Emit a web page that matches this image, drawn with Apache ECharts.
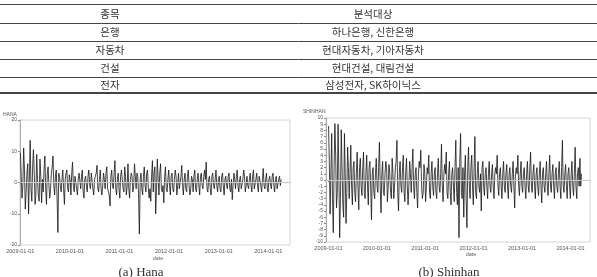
<!DOCTYPE html>
<html><head><meta charset="utf-8">
<script src="https://cdn.jsdelivr.net/npm/echarts@6/dist/echarts.min.js"></script>
<style>html,body{margin:0;padding:0;background:#fff}#c{width:597px;height:277px}</style>
</head><body><div id="c"></div>
<script>
// ---- table text ----
const tableHeader = ['종목', '분석대상'];
const tableSectors = ['은행', '자동차', '건설', '전자'];
const tableTargets = ['하나은행, 신한은행', '현대자동차, 기아자동차', '현대건설, 대림건설', '삼성전자, SK하이닉스'];

// ---- chart texts / ticks ----
const captions = ['(a) Hana', '(b) Shinhan'];
const yNames = ['HANA', 'SHINHAN'];
const xTickLabels = ['2009-01-01', '2010-01-01', '2011-01-01', '2012-01-01', '2013-01-01', '2014-01-01'];
const hanaYTicks = [-20, -10, 0, 10, 20];
const shinhanYTicks = [-10, -9, -8, -7, -6, -5, -4, -3, -2, -1, 0, 1, 2, 3, 4, 5, 6, 7, 8, 9, 10];

// ---- series (sampled every 6 days from 2009-01-02) ----
const seriesStart = '2009-01-02';
const stepDays = 6;
const hanaValues = [
  9.5, 2, -5, -1, 11, 4, -8.5, -3, 3, 6, -10, 1, 13.5, -2, -6, 5, 10.5, 3, -7, -4,
  9, 1, -4, -6, 7.5, 2, -6.5, 1, -3, 4, 8.5, -2, -7, 3, 5, -1, -5, -2, 3, 5,
  8.5, -1, -4, 2, 4, -5, -16, 3, 2, -1, -3, 1, 4, -2, -7, 1, 3, 4, -2, -3,
  2.5, 1, -4, 3, 6.5, -1, -3, 2, 2, -2, -4, 1, 3, 0.5, -2, 2, 4, -3, -5, 1,
  2, -1, -3, 2, 4, -1, -2, 3, 3, -2, -4, 1, 2, 3, 5.5, -2, -3, 1, 4, -2,
  -4, -1, 3, 1, -2, 3, 5, -2, -3, -4, -7.5, 2, 4, -1, -2, 3, 7, -2, -4, 1,
  3, -2, -5, 2, 4, 1, -2, -3, 5, 2, -4, -1, 6, -2, -5, 1, 3, 2, -3, -1,
  6, 2, -2, 3, 2, -4, -16.5, 1, 3, -2, -4, 2, 5, -1, -3, 3, 4, -2, -5, -2,
  -6, 2, 7, -3, 3, 5, -10, -2, 7.5, 1, -4, 3, 6, -2, -3, -1, -6.5, 2, 5, -2,
  -3, 1, 4, -1, -4, 2, 3, -2, -3, 1, 4, 2, -4, -1, 3, -2, -2, 2, 5.5, -1,
  -4, 1, 3, -2, -3, 2, 4, -1, -4, -2, 2, 1, -3, 2, 4, -2, -3, 1, 3, -1,
  -4, 2, 3, -1, -2, 2, 4, 1, 6.5, -2, -3, 1, 2, -2, -4, 2, 3, -1, -2, 1,
  4, -1, -3, 1, 2, -2, -3, 2, 3, -1, -4, 1, 2, -1, -2, 2, 3, -2, -3, 1,
  -5.5, -1, 3, 1, -2, 2, 4, -1, -3, 1, 2, -2, -2, 1, 4, 2, -3, -1, 2, -1,
  -2, 1, 3, -1, -3, 2, 4, -2, -2, 1, 3, -1, -3, 2, 2, -1, -3, 1, 4.5, -1,
  -2, 1, 3, -2, -3, 1, 2, -1, -2, 2, 3, -1, -3, 1, 2, -2, -2, 1, 2, -1,
  1
];
const shinhanValues = [
  8.7, 3, -5.5, 1, 7.5, -3, -8.5, 2, 9.1, 4, -4.5, -2, 9.0, 1, -9.3, -3, 8.1, 2, -4, -6,
  7.5, 1, -7, -2, 5.3, 2, -3, 1, 5.6, -1, -4, 2, 3, -2, -3.5, 1, 4.5, -1, -4.8, 2,
  3.5, -1, -2.5, 2, 4.5, -2, -3, 1, 4, -1, -4, 2, 3, -1, -6.4, 1, 2, -2, -3, 1,
  3.5, -1, -2, 2, 6.1, -1, -5.3, 1, 3, -2, -2.5, 1, 3, 2, -3.5, -1, 2.5, 1, -2, -3,
  3.5, 1, -3, -1, 2, 3, 6.4, -2, -5, 1, 3, -1, -2, 2, 4, -2, -3.5, 1, 3.5, -1,
  -4, -1, 3, 1, -2, 2, 5, -1, -3, 1, 2, -2, -4.5, 1, 3, 2, 4.8, -1, -3, -2,
  2.5, 1, -3.5, -1, 2, 1, 4, -2, -3, 1, 3, -1, -2.5, 1, 2, -2, -3, 1, 3.5, -1,
  -2, 1, 5.8, -1, -3.5, 1, 2.5, 1, 4.5, -2, -3, 1, 3, -2, -4, 1, 2, -1, -3.5, 2,
  6.4, -2, -4, 2, -9.3, 3, 7.5, -2, -3, 2, -6, 1, 4, -3, -7.7, 2, 5.3, -1, -3, 2,
  4, -1, -4, 2, 7, -2, -3, 1, 3, -1, -2, 1, -5, 2, 3, -1, -2.5, 1, 2, -1,
  -3, 1, 3, -1, -2, 1, 2.5, -1, -3, 1, 2, 1, 4, -1, -2.5, 1, 2, -1, -3, 1,
  3, -1, -2, 1, 2.5, -1, -3, 1, 2, -1, -2, 1, 3, -1, -4.5, 1, 2, 1, 4, -1,
  -2.5, 1, 3, -1, -2, 1, 2, -1, -3, 1, 3, -1, -2, 2, 4.5, -1, -2, 1, 2.5, -1,
  -3, 1, 2, -1, -2.5, 1, 3, -1, -3.7, 1, 2, -1, -2, 1, 3, -1, -2.5, 1, 4, -1,
  -2, 1, 2.5, -1, -3, 1, 2, -1, -2, 1, 3, -1, -3, 2, 6.4, -1, -2, 1, 2.5, -1,
  -3, 1, 2, -1, -3, 1, 3, -1, -2.5, 1, 5.3, -1, -3, 1, 2, -1, 3.5, -1, 1
];

const DAY = 86400000;
const t0 = Date.parse(seriesStart);
function toPairs(vals) { return vals.map((v, i) => [t0 + i * stepDays * DAY, v]); }
const tickVals = xTickLabels.map(s => Date.parse(s));
function fmtX(v) {
  const k = tickVals.findIndex(t => Math.abs(t - v) < DAY);
  return k >= 0 ? xTickLabels[k] : '';
}

const axisTxt = { fontSize: 5.5, color: '#555', fontFamily: 'Liberation Sans' };
function xAx(gi, min, max) {
  return {
    type: 'value', gridIndex: gi, min: min, max: max,
    axisLine: { show: true, lineStyle: { color: '#aaa', width: 1 } },
    axisTick: { show: true, length: 2, customValues: tickVals, lineStyle: { color: '#888' } },
    axisLabel: Object.assign({ customValues: tickVals, formatter: fmtX, margin: 3, showMinLabel: true, showMaxLabel: true }, axisTxt),
    splitLine: { show: false }
  };
}
function yAx(gi, ticks, interval) {
  return {
    type: 'value', gridIndex: gi, min: ticks[0], max: ticks[ticks.length - 1], interval: interval,
    axisLine: { show: true, lineStyle: { color: '#aaa', width: 1 } },
    axisTick: { show: true, length: 2, lineStyle: { color: '#888' } },
    axisLabel: { margin: 3, fontSize: 5, color: '#555', fontFamily: 'Liberation Sans' },
    splitLine: { show: false }
  };
}
function lineSeries(gi, vals) {
  return {
    type: 'line', xAxisIndex: gi, yAxisIndex: gi, data: toPairs(vals),
    showSymbol: false, symbol: 'none', animation: false,
    lineStyle: { color: '#141414', width: 0.8 },
    markLine: { silent: true, symbol: 'none', label: { show: false },
      lineStyle: { color: '#c8c8c8', type: 'solid', width: 1 }, data: [{ yAxis: 0 }] }
  };
}

// table graphic
const g = [];
const rowLines = [4, 23, 41, 59, 77];
rowLines.forEach((y, i) => g.push({ type: 'line', shape: { x1: 0, y1: y + 0.5, x2: 597, y2: y + 0.5 },
  style: { stroke: '#444', lineWidth: i === 0 ? 1.2 : 1 } }));
g.push({ type: 'line', shape: { x1: 0, y1: 93, x2: 597, y2: 93 }, style: { stroke: '#444', lineWidth: 2 } });
const rowY = [14, 32, 50, 68, 85];
const korFont = '"Noto Sans CJK KR", sans-serif';
const col1 = [tableHeader[0]].concat(tableSectors);
const col2 = [tableHeader[1]].concat(tableTargets);
col1.forEach((t, i) => g.push({ type: 'text', x: 110, y: rowY[i],
  style: { text: t, fill: '#333', font: '10.5px ' + korFont, textAlign: 'center', textVerticalAlign: 'middle' } }));
col2.forEach((t, i) => g.push({ type: 'text', x: 373, y: rowY[i],
  style: { text: t, fill: '#333', font: '10.5px ' + korFont, textAlign: 'center', textVerticalAlign: 'middle' } }));
// captions
[[141, 273], [449, 273]].forEach((p, i) => g.push({ type: 'text', x: p[0], y: p[1],
  style: { text: captions[i], fill: '#333', font: '13px "Liberation Serif", serif', textAlign: 'center', textVerticalAlign: 'middle' } }));
// x axis names
[[158, 258], [471, 254]].forEach(p => g.push({ type: 'text', x: p[0], y: p[1],
  style: { text: 'date', fill: '#666', font: '5.5px "Liberation Sans"', textAlign: 'center', textVerticalAlign: 'middle' } }));
// y axis names
[[3, 115], [303, 112]].forEach((p, i) => g.push({ type: 'text', x: p[0], y: p[1],
  style: { text: yNames[i], fill: '#555', font: '5px "Liberation Sans"', textAlign: 'left', textVerticalAlign: 'middle' } }));

const chart = echarts.init(document.getElementById('c'), null, { renderer: 'canvas' });
chart.setOption({
  animation: false,
  backgroundColor: '#fff',
  grid: [
    { left: 20, top: 120, width: 270, height: 125, show: true, borderColor: '#d4d4d4', borderWidth: 1, backgroundColor: 'transparent' },
    { left: 326, top: 118, width: 264, height: 124, show: true, borderColor: '#d4d4d4', borderWidth: 1, backgroundColor: 'transparent' }
  ],
  xAxis: [
    xAx(0, Date.parse('2008-12-30'), Date.parse('2014-06-10')),
    xAx(1, Date.parse('2008-12-14'), Date.parse('2014-05-28'))
  ],
  yAxis: [ yAx(0, hanaYTicks, 10), yAx(1, shinhanYTicks, 1) ],
  series: [ lineSeries(0, hanaValues), lineSeries(1, shinhanValues) ],
  graphic: g
});
</script></body></html>
